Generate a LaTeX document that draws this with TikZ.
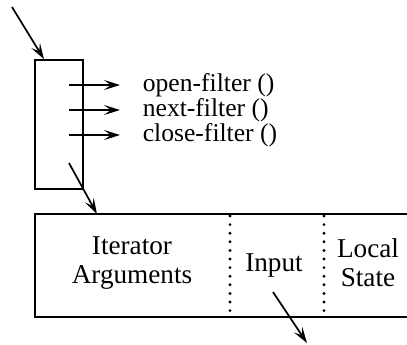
\documentclass[tikz,border=0pt]{standalone}
\usepackage{fontspec}
\setmainfont{Liberation Serif}
\usetikzlibrary{arrows.meta}

\tikzset{
  figure/.style = {x=0.5pt, y=-0.5pt, line width=0.85pt,
                   >={Stealth[length=8pt, width=5pt, inset=3.4pt]}},
  iterbox/.style = {draw, rectangle, inner sep=0pt,
                    minimum width=24pt, minimum height=64.5pt},
  method/.style = {anchor=west, inner sep=0pt,
                   font=\fontsize{12.8}{14}\selectfont},
  field/.style = {align=center, inner sep=0pt,
                  font=\fontsize{13.6}{14.5}\selectfont},
  dotsep/.style = {line width=1.6pt, dash pattern=on 0pt off 4.3pt,
                   line cap=round},
}

\begin{document}
\begin{tikzpicture}[figure]
  \useasboundingbox (0,0) rectangle (407,344);

  % iterator handle
  \node[iterbox] (iter) at (59,124.5) {};
  \coordinate (in) at (12,7);
  \draw[->] (in) -- (iter.north west -| 44,0);

  % entry points
  \node[method] (open)  at (142,85)  {open-filter ()};
  \node[method] (next)  at (142,110) {next-filter ()};
  \node[method] (close) at (142,135) {close-filter ()};
  \foreach \m in {open,next,close}
    \draw[->, shorten >=11pt] (69,0 |- \m.west) -- (\m.west);

  % state record, open to the right
  \coordinate (snw) at (35,214);
  \coordinate (ssw) at (35,317);
  \draw (407,214) -- (snw) -- (ssw) -- (407,317);
  \draw[dotsep] (230,216) -- (230,317);
  \draw[dotsep] (324,216) -- (324,317);

  \node[field] (args)  at (132,263) {Iterator\\Arguments};
  \node[field] (input) at (274,265) {Input};
  \node[field] (local) at (368,263) {Local\\State};

  % links
  \coordinate (ptr) at (69,163);
  \draw[->] (ptr) -- (97,214);
  \coordinate (src) at (273,292);
  \coordinate (out) at (307,343);
  \draw[->] (src) -- (out);

\end{tikzpicture}
\end{document}
